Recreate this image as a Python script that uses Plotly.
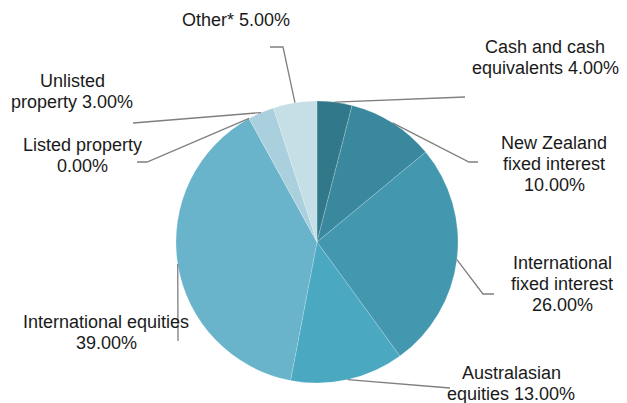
import math
import plotly.graph_objects as go

# ---- data ----
categories = ["Cash and cash equivalents", "New Zealand fixed interest",
              "International fixed interest", "Australasian equities",
              "International equities", "Listed property",
              "Unlisted property", "Other*"]
values = [4.0, 10.0, 26.0, 13.0, 39.0, 0.0, 3.0, 5.0]
label_text = ["Cash and cash<br>equivalents 4.00%",
              "New Zealand<br>fixed interest<br>10.00%",
              "International<br>fixed interest<br>26.00%",
              "Australasian<br>equities 13.00%",
              "International equities<br>39.00%",
              "Listed property<br>0.00%",
              "Unlisted<br>property 3.00%",
              "Other* 5.00%"]
colors = ["#31798a", "#3a889e", "#4398af", "#4aa8c1", "#69b4cb",
          "#80c0d2", "#a9d0dc", "#c6dfe7"]

# ---- layout (pixels) ----
W, H = 627, 403
CX, CY, R = 317, 242, 141
# label anchor (center x, first line y) and leader line outer points
label_pos = [(545, 47), (554, 143), (562, 263), (511, 373),
             (106, 322), (82, 145), (72, 81), (236, 20)]
leader_pts = [[(465, 97)],
              [(469, 162), (478, 162)],
              [(483, 294), (494, 294)],
              [(450, 388)],
              [(178, 341)],
              [(147, 162), (137, 162)],
              [(133, 123)],
              [(283, 47), (270, 47)]]
LINE_H = 21

def px(x, y):
    return x / W, 1 - y / H

fig = go.Figure()
fig.add_trace(go.Pie(
    labels=categories, values=values, sort=False, direction="clockwise",
    rotation=0, textinfo="none", hoverinfo="label+percent",
    marker=dict(colors=colors, line=dict(color="rgba(255,255,255,0.3)", width=0.6)),
    domain=dict(x=[(CX - R) / W, (CX + R) / W],
                y=[1 - (CY + R) / H, 1 - (CY - R) / H]),
    showlegend=False,
))

total = sum(values)
cum = 0.0
shapes = []
annotations = []
for i, v in enumerate(values):
    mid = (cum + v / 2) / total * 2 * math.pi
    cum += v
    sx = CX + R * math.sin(mid)
    sy = CY - R * math.cos(mid)
    pts = [(sx, sy)] + leader_pts[i]
    path = "M " + " L ".join(f"{px(x, y)[0]:.5f},{px(x, y)[1]:.5f}" for x, y in pts)
    shapes.append(dict(type="path", path=path, xref="paper", yref="paper",
                       line=dict(color="#7f7f7f", width=1.3)))
    lx, ly = label_pos[i]
    for j, line in enumerate(label_text[i].split("<br>")):
        ax, ay = px(lx, ly + j * LINE_H)
        annotations.append(dict(text=line, x=ax, y=ay, xref="paper", yref="paper",
                                xanchor="center", yanchor="middle", showarrow=False,
                                font=dict(family="Liberation Sans, Arial, sans-serif",
                                          size=18, color="#1a1a1a")))

fig.update_layout(
    width=W, height=H, margin=dict(l=0, r=0, t=0, b=0),
    paper_bgcolor="white", plot_bgcolor="white",
    shapes=shapes, annotations=annotations,
)
fig.write_html("out.html", config={"displayModeBar": False})

with open("out.html", "r", encoding="utf-8") as f:
    html = f.read()
html = html.replace("<body>", '<body style="margin:0;padding:0;overflow:hidden">', 1)
with open("out.html", "w", encoding="utf-8") as f:
    f.write(html)
